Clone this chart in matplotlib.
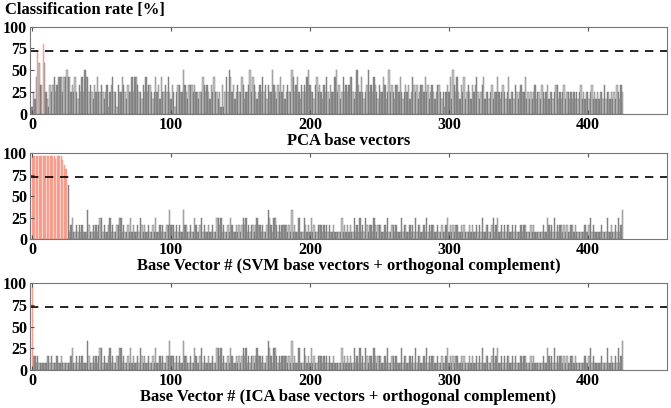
import numpy as np
import matplotlib.pyplot as plt

STEP = 100.0 / 12  # classification levels come in 1/12 steps

# PCA panel, level codes (x STEP = %); indices 4 and 8 are drawn as red bars
pca_codes = [
    1, 3, 2, 5, 0, 7, 4, 4, 0, 7, 3, 2, 1, 4, 3, 4, 5, 3, 4, 5, 5, 5, 3, 5, 5, 6, 5, 5, 3, 4,
    3, 5, 3, 2, 4, 3, 5, 3, 6, 5, 5, 3, 4, 3, 2, 4, 3, 5, 3, 3, 4, 3, 2, 3, 4, 1, 3, 4, 5, 3,
    3, 1, 4, 3, 3, 5, 4, 3, 2, 4, 3, 3, 5, 3, 5, 5, 4, 3, 3, 2, 4, 3, 5, 3, 4, 4, 3, 2, 3, 5,
    3, 4, 2, 5, 3, 3, 4, 3, 5, 3, 2, 4, 3, 1, 3, 4, 4, 3, 3, 6, 4, 3, 2, 4, 4, 4, 3, 4, 3, 3,
    2, 3, 3, 5, 4, 3, 4, 3, 2, 4, 3, 5, 3, 3, 2, 3, 1, 4, 1, 3, 5, 3, 6, 5, 3, 4, 2, 3, 4, 3,
    3, 5, 4, 2, 3, 3, 4, 6, 3, 5, 4, 3, 2, 3, 4, 3, 5, 3, 4, 2, 4, 3, 3, 6, 4, 3, 2, 4, 3, 5,
    3, 4, 2, 3, 4, 3, 3, 6, 5, 3, 4, 5, 3, 2, 4, 3, 4, 3, 5, 6, 4, 3, 3, 2, 4, 5, 3, 4, 3, 2,
    4, 3, 5, 3, 2, 4, 3, 3, 5, 6, 3, 4, 2, 3, 5, 3, 4, 3, 4, 5, 5, 3, 2, 3, 6, 4, 3, 5, 3, 2,
    3, 4, 6, 3, 4, 3, 5, 4, 3, 2, 4, 3, 3, 5, 4, 2, 3, 6, 3, 4, 3, 2, 4, 4, 3, 5, 3, 2, 3, 4,
    3, 4, 2, 3, 5, 4, 3, 4, 2, 3, 4, 4, 3, 5, 3, 4, 2, 3, 4, 3, 2, 3, 4, 4, 3, 2, 3, 1, 3, 4,
    3, 5, 2, 6, 4, 3, 5, 3, 2, 4, 3, 5, 2, 3, 4, 3, 2, 4, 3, 4, 5, 3, 2, 3, 4, 5, 2, 3, 3, 2,
    3, 4, 2, 3, 3, 5, 3, 2, 3, 4, 3, 2, 3, 5, 2, 3, 3, 2, 4, 3, 2, 3, 4, 3, 3, 5, 2, 3, 2, 3,
    2, 3, 4, 2, 3, 3, 2, 4, 3, 2, 3, 4, 2, 3, 3, 2, 3, 4, 4, 2, 3, 2, 3, 4, 2, 3, 3, 2, 3, 2,
    3, 2, 3, 2, 3, 4, 2, 3, 2, 3, 3, 2, 3, 4, 2, 3, 2, 3, 2, 3, 3, 2, 4, 2, 3, 3, 2, 3, 2, 3,
    2, 4, 3, 2, 4, 3,
]
pca_red_idx = [4, 8]
pca_red_val = [72, 80]

# ICA panel codes; index 0 is the red bar
ica_codes = [
    0, 2, 2, 1, 2, 1, 1, 1, 1, 1, 1, 2, 2, 1, 2, 1, 1, 1, 2, 1, 1, 2, 1, 1, 1, 1, 1, 1, 2, 3,
    1, 1, 2, 1, 2, 1, 2, 1, 1, 1, 4, 2, 1, 1, 2, 1, 2, 1, 2, 3, 3, 1, 2, 1, 1, 2, 3, 1, 2, 1,
    1, 2, 2, 3, 3, 1, 2, 1, 1, 2, 1, 3, 1, 2, 1, 1, 2, 1, 3, 2, 1, 2, 1, 1, 2, 1, 1, 2, 1, 3,
    1, 1, 2, 1, 2, 1, 1, 2, 2, 4, 2, 2, 2, 1, 2, 1, 2, 1, 1, 4, 2, 2, 1, 1, 2, 1, 1, 3, 2, 1,
    1, 2, 3, 1, 2, 1, 1, 2, 1, 1, 2, 1, 1, 3, 3, 2, 3, 1, 2, 1, 1, 2, 1, 3, 2, 1, 1, 2, 1, 2,
    1, 2, 3, 2, 3, 1, 2, 1, 2, 2, 1, 2, 3, 2, 2, 1, 2, 1, 1, 2, 4, 3, 2, 1, 3, 3, 2, 1, 2, 1,
    2, 2, 2, 2, 1, 2, 1, 4, 1, 2, 1, 1, 3, 1, 1, 1, 3, 2, 1, 2, 1, 3, 1, 2, 1, 1, 2, 2, 2, 1,
    2, 1, 2, 1, 2, 1, 1, 2, 1, 1, 1, 1, 1, 3, 1, 2, 1, 2, 1, 2, 1, 1, 3, 1, 2, 1, 3, 1, 2, 1,
    3, 2, 1, 2, 2, 1, 3, 2, 1, 2, 2, 2, 1, 1, 2, 1, 3, 1, 1, 2, 2, 1, 2, 1, 1, 1, 3, 1, 2, 2,
    1, 1, 2, 1, 2, 1, 3, 1, 2, 2, 1, 1, 2, 1, 3, 1, 2, 1, 2, 2, 1, 1, 2, 1, 1, 2, 1, 1, 2, 3,
    1, 2, 1, 2, 1, 2, 2, 1, 1, 2, 1, 2, 1, 1, 1, 2, 1, 2, 1, 1, 2, 1, 2, 1, 3, 1, 1, 2, 2, 1,
    1, 2, 3, 1, 2, 3, 1, 1, 2, 1, 2, 1, 2, 2, 1, 1, 2, 1, 2, 1, 1, 1, 2, 1, 2, 2, 1, 1, 1, 2,
    1, 2, 1, 1, 1, 1, 1, 1, 2, 1, 1, 3, 2, 1, 2, 1, 3, 1, 2, 1, 2, 2, 1, 2, 1, 2, 1, 1, 2, 2,
    1, 2, 1, 1, 1, 1, 1, 1, 2, 1, 1, 2, 3, 1, 2, 1, 1, 1, 1, 1, 2, 1, 1, 1, 3, 1, 1, 2, 1, 1,
    2, 1, 3, 1, 2, 4,
]
ica_red_idx = [0]
ica_red_val = [97]

# SVM panel: red bars 0-25, grey bar 26, then same as ICA from 27 on
svm_red_val = [97] * 17 + [93, 97, 97, 97, 97, 92, 86, 81, 81]
svm_red_idx = list(range(len(svm_red_val)))
svm_bar26 = 63

pca = np.array(pca_codes) * STEP
ica = np.array(ica_codes) * STEP
svm = ica.copy()
svm[:26] = 0
svm[26] = svm_bar26

threshold = 72
xlabels = ["PCA base vectors",
           "Base Vector # (SVM base vectors + orthogonal complement)",
           "Base Vector # (ICA base vectors + orthogonal complement)"]

plt.rcParams['font.family'] = ['Liberation Serif', 'DejaVu Serif']
plt.rcParams['font.weight'] = 'bold'

fig = plt.figure(figsize=(6.71, 4.08), dpi=100)
boxes = [(0.0447, 0.721, 0.9493, 0.214),
         (0.0447, 0.414, 0.9493, 0.211),
         (0.0447, 0.093, 0.9493, 0.213)]
panels = [(pca, pca_red_idx, pca_red_val),
          (svm, svm_red_idx, svm_red_val),
          (ica, ica_red_idx, ica_red_val)]

for box, (vals, ridx, rval), xl in zip(boxes, panels, xlabels):
    ax = fig.add_axes(box)
    x = np.arange(len(vals))
    cols = ['#8c8c8c' if i % 2 == 0 else '#c6c6c6' for i in x]
    ax.bar(x, vals, width=1.0, color=cols, edgecolor='#737373', linewidth=0.3)
    ax.bar(ridx, rval, width=0.75, color='#f9b2a4', edgecolor='#f28a78', linewidth=0.3)
    ax.axhline(threshold, color='black', linestyle=(0, (5, 4)), linewidth=1.2)
    ax.set_xlim(-1.5, 457)
    ax.set_ylim(0, 100)
    ax.set_xticks([0, 100, 200, 300, 400])
    ax.set_yticks([0, 25, 50, 75, 100])
    ax.tick_params(direction='in', length=3, labelsize=11.5, pad=2,
                   top=True, right=False, colors='#555555', labelcolor='black')
    for s in ax.spines.values():
        s.set_color('#777777')
        s.set_linewidth(0.8)
    ax.set_xlabel(xl, fontsize=12, fontweight='bold', labelpad=0)

fig.text(0.008, 0.976, "Classification rate [%]", fontsize=12,
         fontweight='bold', ha='left', va='center')

fig.savefig("out.png", dpi=100)
